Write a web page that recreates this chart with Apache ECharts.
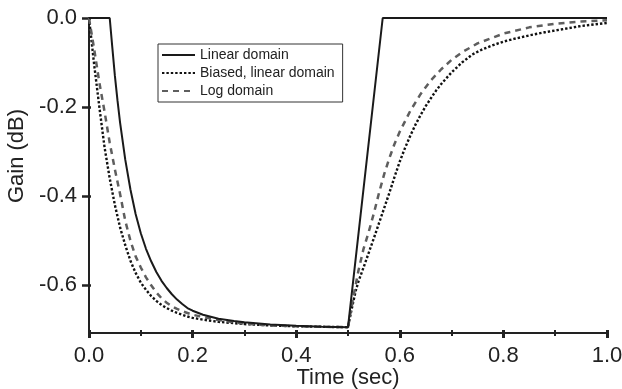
<!DOCTYPE html>
<html>
<head>
<meta charset="utf-8">
<script src="https://cdn.jsdelivr.net/npm/echarts@6/dist/echarts.min.js"></script>
<style>
html,body{margin:0;padding:0;background:#fff;}
#c{width:622px;height:389px;}
</style>
</head>
<body>
<div id="c"></div>
<script>
// ---- data ----
var seriesNames = ['Linear domain', 'Biased, linear domain', 'Log domain'];

var tLinear = [0, 0.04, 0.045, 0.05, 0.055, 0.06, 0.07, 0.08, 0.09, 0.10, 0.11, 0.12, 0.13, 0.14, 0.15, 0.16, 0.17, 0.18, 0.19, 0.20, 0.22, 0.25, 0.28, 0.30, 0.35, 0.40, 0.45, 0.50, 0.567, 1.0];
var vLinear = [0, 0, -0.066, -0.13, -0.185, -0.235, -0.318, -0.385, -0.44, -0.483, -0.518, -0.546, -0.57, -0.59, -0.606, -0.62, -0.632, -0.642, -0.651, -0.657, -0.666, -0.675, -0.68, -0.683, -0.688, -0.691, -0.693, -0.694, 0, 0];

var tBiased = [0, 0.01, 0.02, 0.03, 0.04, 0.05, 0.06, 0.07, 0.08, 0.09, 0.10, 0.11, 0.12, 0.13, 0.14, 0.15, 0.16, 0.17, 0.18, 0.19, 0.20, 0.22, 0.25, 0.30, 0.35, 0.40, 0.45, 0.50,
               0.505, 0.51, 0.515, 0.52, 0.53, 0.54, 0.55, 0.56, 0.57, 0.58, 0.59, 0.60, 0.61, 0.62, 0.63, 0.64, 0.65, 0.66, 0.67, 0.68, 0.70, 0.72, 0.74, 0.76, 0.78, 0.80, 0.82, 0.85, 0.88, 0.90, 0.95, 1.0];
var vBiased = [0, -0.105, -0.2, -0.29, -0.36, -0.42, -0.47, -0.51, -0.545, -0.572, -0.594, -0.61, -0.624, -0.635, -0.644, -0.651, -0.657, -0.662, -0.666, -0.67, -0.673, -0.677, -0.682, -0.687, -0.69, -0.692, -0.693, -0.694,
               -0.665, -0.638, -0.612, -0.592, -0.56, -0.527, -0.494, -0.46, -0.426, -0.392, -0.356, -0.322, -0.292, -0.265, -0.24, -0.218, -0.198, -0.18, -0.163, -0.148, -0.122, -0.1, -0.082, -0.07, -0.061, -0.053, -0.047, -0.039, -0.032, -0.028, -0.018, -0.011];

var tLog = [0, 0.01, 0.02, 0.03, 0.04, 0.05, 0.06, 0.07, 0.08, 0.09, 0.10, 0.11, 0.12, 0.13, 0.14, 0.15, 0.16, 0.17, 0.18, 0.19, 0.20, 0.22, 0.25, 0.30, 0.35, 0.40, 0.45, 0.50,
            0.51, 0.52, 0.53, 0.54, 0.55, 0.56, 0.57, 0.58, 0.59, 0.60, 0.62, 0.64, 0.66, 0.68, 0.70, 0.72, 0.75, 0.80, 0.85, 0.90, 0.95, 1.0];
var vLog = [0, -0.07, -0.145, -0.21, -0.28, -0.34, -0.395, -0.455, -0.5, -0.535, -0.56, -0.582, -0.6, -0.616, -0.629, -0.639, -0.647, -0.653, -0.658, -0.662, -0.666, -0.671, -0.678, -0.686, -0.69, -0.692, -0.693, -0.694,
            -0.628, -0.568, -0.518, -0.48, -0.438, -0.392, -0.35, -0.314, -0.282, -0.255, -0.209, -0.171, -0.14, -0.115, -0.094, -0.077, -0.057, -0.035, -0.021, -0.013, -0.008, -0.005];

var xTicks = [0, 0.2, 0.4, 0.6, 0.8, 1.0];
var yTicks = [0, -0.2, -0.4, -0.6];
var xTitle = 'Time (sec)';
var yTitle = 'Gain (dB)';

function pairs(t, v) { return t.map(function (x, i) { return [x, v[i]]; }); }

var FONT = '"Liberation Sans", Arial, sans-serif';
var AX = '#222';

var chart = echarts.init(document.getElementById('c'), null, { renderer: 'canvas' });
var fmt = function (v) { return (Math.abs(v) < 1e-9 ? 0 : v).toFixed(1); };

chart.setOption({
  animation: false,
  backgroundColor: '#fff',
  grid: { left: 89, right: 15, top: 18, bottom: 56, containLabel: false, outerBoundsMode: 'none' },
  legend: {
    show: true,
    orient: 'vertical',
    left: 158, top: 44,
    padding: [4, 8, 4, 3],
    itemGap: 4,
    itemWidth: 33, itemHeight: 12,
    borderColor: '#333', borderWidth: 1,
    backgroundColor: '#fff',
    itemStyle: { opacity: 0 },
    textStyle: { fontFamily: FONT, fontSize: 14, color: '#222' },
    data: seriesNames
  },
  xAxis: [{
    type: 'value', min: 0, max: 1.0, interval: 0.2,
    position: 'bottom',
    axisLine: { show: true, onZero: false, lineStyle: { color: AX, width: 2 } },
    axisTick: { show: true, length: 5, lineStyle: { color: AX, width: 3 } },
    minorTick: { show: true, splitNumber: 2, length: 3, lineStyle: { color: AX, width: 2 } },
    splitLine: { show: false },
    axisLabel: { fontFamily: FONT, fontSize: 22, color: '#222', margin: 12, formatter: fmt },
    name: xTitle, nameLocation: 'middle', nameGap: 34, nameMoveOverlap: false,
    nameTextStyle: { fontFamily: FONT, fontSize: 22, color: '#222' }
  }, {
    type: 'value', min: 0, max: 1.0, interval: 0.2,
    position: 'bottom',
    axisLine: { show: false, onZero: false },
    axisTick: { show: true, inside: true, length: 3, lineStyle: { color: AX, width: 3 } },
    minorTick: { show: true, splitNumber: 2, length: 3, lineStyle: { color: AX, width: 2 } },
    splitLine: { show: false },
    axisLabel: { show: false }
  }],
  yAxis: [{
    type: 'value', min: -0.707, max: 0,
    axisLine: { show: true, onZero: false, lineStyle: { color: AX, width: 2 } },
    axisTick: { show: true, length: 7, lineStyle: { color: AX, width: 2.5 }, customValues: yTicks },
    splitLine: { show: false },
    axisLabel: { fontFamily: FONT, fontSize: 22, color: '#222', margin: 12, formatter: fmt, customValues: yTicks }
  }, {
    type: 'value', min: -0.707, max: 0, position: 'left',
    axisLine: { show: false, onZero: false },
    axisTick: { show: true, inside: true, length: 2, lineStyle: { color: AX, width: 2.5 }, customValues: yTicks },
    splitLine: { show: false },
    axisLabel: { show: false }
  }],
  graphic: [{
    type: 'text', x: 17, y: 156, rotation: Math.PI / 2,
    style: { text: yTitle, font: '22px ' + FONT, fill: '#222', align: 'center', verticalAlign: 'middle' }
  }],
  series: [{
    name: seriesNames[0], type: 'line', data: pairs(tLinear, vLinear),
    showSymbol: false, symbol: 'none', clip: false, z: 3,
    lineStyle: { color: '#1a1a1a', width: 2 }, itemStyle: { color: '#1a1a1a' }
  }, {
    name: seriesNames[1], type: 'line', data: pairs(tBiased, vBiased),
    showSymbol: false, symbol: 'none', clip: false, z: 2,
    lineStyle: { color: '#111', width: 2.4, type: [2.4, 2] }, itemStyle: { color: '#111' }
  }, {
    name: seriesNames[2], type: 'line', data: pairs(tLog, vLog),
    showSymbol: false, symbol: 'none', clip: false, z: 2,
    lineStyle: { color: '#5e5e5e', width: 2.5, type: [6, 5] }, itemStyle: { color: '#5e5e5e' }
  }]
});
</script>
</body>
</html>
